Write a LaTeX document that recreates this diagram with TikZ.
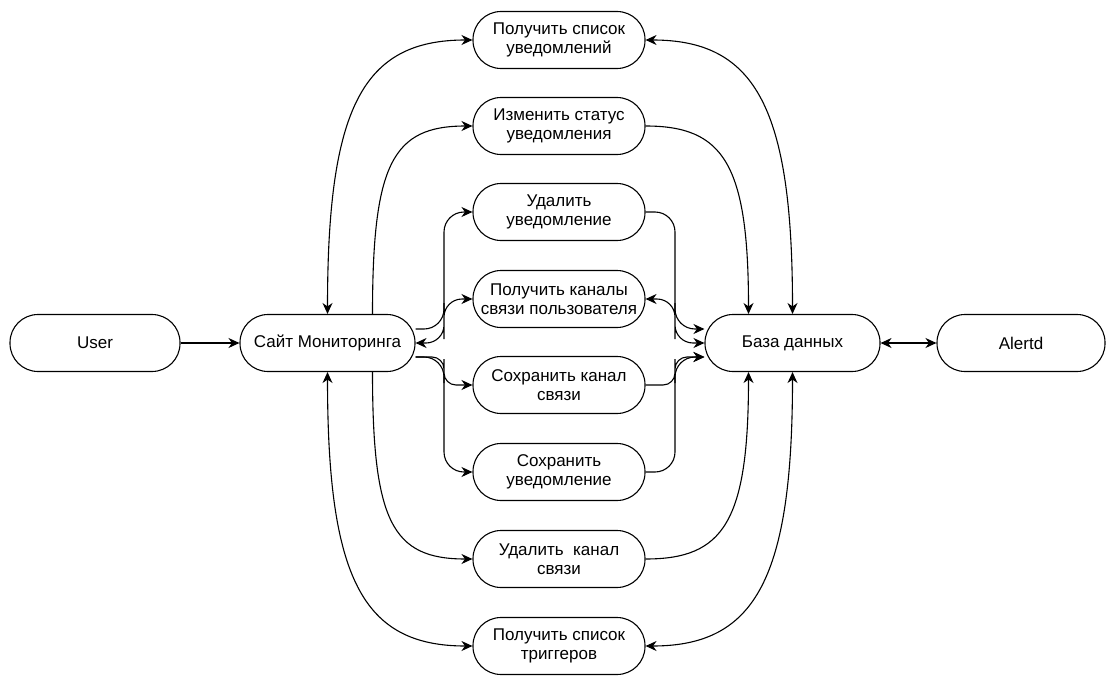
\documentclass[tikz,border=0pt]{standalone}
\usepackage{fontspec}
\setmainfont{Liberation Sans}
\usetikzlibrary{arrows.meta,calc}
\begin{document}
\begin{tikzpicture}[x=1pt,y=-1pt,
  box/.style={draw, line width=1.1pt, rounded corners=28pt, minimum height=57pt,
    inner sep=0pt, align=center, font=\fontsize{17}{19}\selectfont},
  tipA/.tip={Stealth[length=11pt,width=10pt,inset=3.5pt]},
  conn/.style={line width=1.1pt, -tipA},
  bi/.style={line width=1.1pt, tipA-tipA},
]
\useasboundingbox (0,0) rectangle (1110,677);

\node[box, minimum width=170pt] (u)  at (95,343)    {User};
\node[box, minimum width=175pt] (s)  at (327.5,343) {Сайт Мониторинга};
\node[box, minimum width=175pt] (db) at (792.5,343) {База данных};
\node[box, minimum width=168pt] (al) at (1021,343)  {Alertd};

\node[box, minimum width=172pt] (n1) at (559,40)  {Получить список\\уведомлений};
\node[box, minimum width=172pt] (n2) at (559,126) {Изменить статус\\уведомления};
\node[box, minimum width=172pt] (n3) at (559,212) {Удалить\\уведомление};
\node[box, minimum width=172pt] (n4) at (559,299) {Получить каналы\\связи пользователя};
\node[box, minimum width=172pt] (n5) at (559,385) {Сохранить канал\\связи};
\node[box, minimum width=172pt] (n6) at (559,472) {Сохранить\\уведомление};
\node[box, minimum width=172pt] (n7) at (559,559) {Удалить\ \ канал\\связи};
\node[box, minimum width=172pt] (n8) at (559,646) {Получить список\\триггеров};

% connector end points
\coordinate (sTop2) at ([xshift=45pt]s.north);
\coordinate (sBot2) at ([xshift=45pt]s.south);
\coordinate (sUp)   at ([yshift=14pt]s.east);
\coordinate (sLow)  at ([yshift=-14pt]s.east);
\coordinate (dTop2) at ([xshift=-44pt]db.north);
\coordinate (dBot2) at ([xshift=-44pt]db.south);
\coordinate (dUp)   at ([yshift=14pt]db.west);
\coordinate (dLow)  at ([yshift=-14pt]db.west);

% horizontal links
\draw[conn] (u) -- (s);
\draw[bi] (db) -- (al);

% left side, large curves
\draw[bi] (s.north) .. controls ($(s.north)+(0,-206)$) and ($(n1.west)+(-110,0)$) .. (n1.west);
\draw[conn] (sTop2) .. controls ($(sTop2)+(0,-150)$) and ($(n2.west)+(-80,0)$) .. (n2.west);
\draw[conn] (sBot2) .. controls ($(sBot2)+(0,150)$) and ($(n7.west)+(-80,0)$) .. (n7.west);
\draw[bi] (s.south) .. controls ($(s.south)+(0,206)$) and ($(n8.west)+(-110,0)$) .. (n8.west);

% left side, short curves
\draw[conn, rounded corners=20pt] (sUp) -| ($(sUp)!0.5!(n3.west)$) |- (n3.west);
\draw[bi, rounded corners=18pt] (s.east) -| ($(s.east)!0.5!(n4.west)$) |- (n4.west);
\draw[conn, rounded corners=12pt] (sLow) -| ($(sLow)!0.5!(n5.west)$) |- (n5.west);
\draw[conn, rounded corners=20pt] (sLow) -| ($(sLow)!0.5!(n6.west)$) |- (n6.west);

% right side, large curves
\draw[bi] (n1.east) .. controls ($(n1.east)+(110,0)$) and ($(db.north)+(0,-206)$) .. (db.north);
\draw[conn] (n2.east) .. controls ($(n2.east)+(78,0)$) and ($(dTop2)+(0,-150)$) .. (dTop2);
\draw[conn] (n7.east) .. controls ($(n7.east)+(78,0)$) and ($(dBot2)+(0,150)$) .. (dBot2);
\draw[bi] (n8.east) .. controls ($(n8.east)+(110,0)$) and ($(db.south)+(0,206)$) .. (db.south);

% right side, short curves
\draw[conn, rounded corners=20pt] (n3.east) -| ($(n3.east)!0.5!(dUp)$) |- (dUp);
\draw[bi, rounded corners=18pt] (n4.east) -| ($(n4.east)!0.5!(db.west)$) |- (db.west);
\draw[conn, rounded corners=12pt] (n5.east) -| ($(n5.east)!0.5!(dLow)$) |- (dLow);
\draw[conn, rounded corners=20pt] (n6.east) -| ($(n6.east)!0.5!(dLow)$) |- (dLow);
\end{tikzpicture}
\end{document}
